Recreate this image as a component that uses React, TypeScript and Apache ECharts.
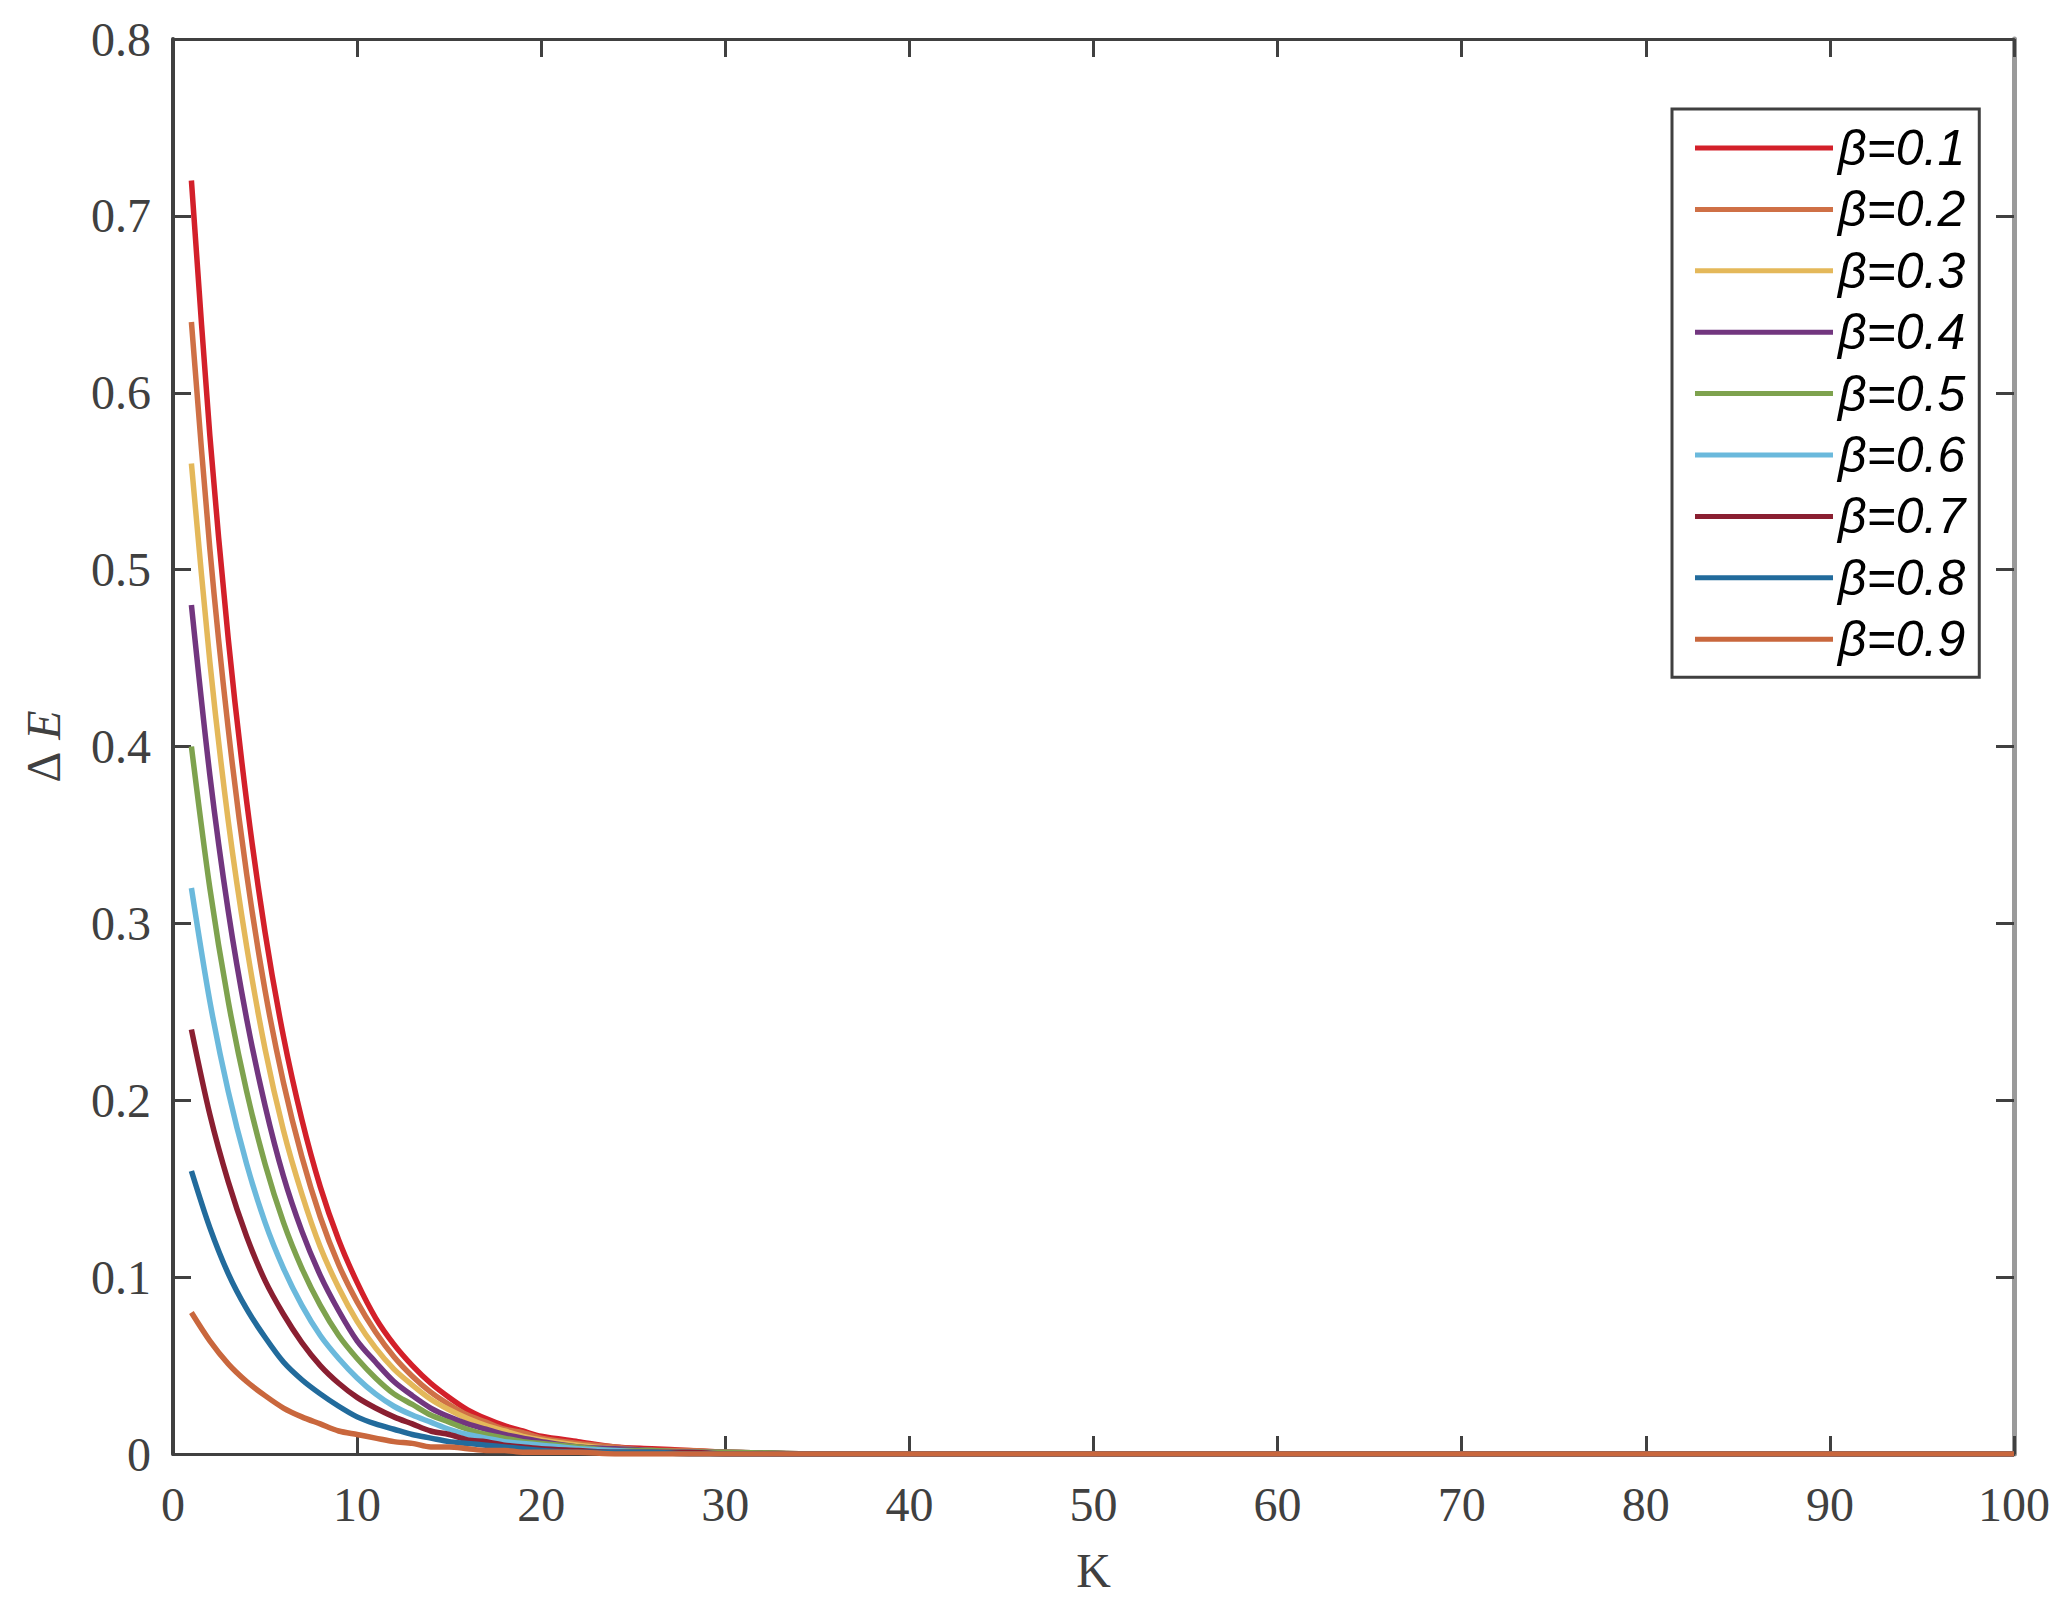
import React, { useEffect, useRef } from "react";
import * as echarts from "echarts";

const K = [1, 2, 3, 4, 5, 6, 7, 8, 9, 10, 11, 12, 13, 14, 15, 16, 17, 18, 19, 20, 22, 24, 26, 28, 30, 35, 40, 50, 60, 70, 80, 90, 100];

const names = ["β=0.1", "β=0.2", "β=0.3", "β=0.4", "β=0.5", "β=0.6", "β=0.7", "β=0.8", "β=0.9"];
const colors = ["#d3202a", "#cf7046", "#e4b85a", "#72367f", "#7ea24e", "#6bb9dc", "#8a1f31", "#226b9c", "#c9673d"];

const b01 = [0.72, 0.576, 0.461, 0.369, 0.295, 0.236, 0.189, 0.151, 0.121, 0.097, 0.077, 0.062, 0.05, 0.04, 0.032, 0.025, 0.02, 0.016, 0.013, 0.01, 0.007, 0.004, 0.003, 0.002, 0.001, 0, 0, 0, 0, 0, 0, 0, 0];
const b02 = [0.64, 0.512, 0.41, 0.328, 0.262, 0.21, 0.168, 0.134, 0.107, 0.086, 0.069, 0.055, 0.044, 0.035, 0.028, 0.022, 0.018, 0.014, 0.012, 0.009, 0.006, 0.004, 0.002, 0.002, 0.001, 0, 0, 0, 0, 0, 0, 0, 0];
const b03 = [0.56, 0.448, 0.358, 0.287, 0.229, 0.183, 0.147, 0.117, 0.094, 0.075, 0.06, 0.048, 0.039, 0.031, 0.025, 0.02, 0.016, 0.013, 0.01, 0.008, 0.005, 0.003, 0.002, 0.001, 0.001, 0, 0, 0, 0, 0, 0, 0, 0];
const b04 = [0.48, 0.384, 0.307, 0.246, 0.197, 0.157, 0.126, 0.101, 0.081, 0.064, 0.052, 0.041, 0.033, 0.026, 0.021, 0.017, 0.014, 0.011, 0.009, 0.007, 0.004, 0.003, 0.002, 0.001, 0.001, 0, 0, 0, 0, 0, 0, 0, 0];
const b05 = [0.4, 0.32, 0.256, 0.205, 0.164, 0.131, 0.105, 0.084, 0.067, 0.054, 0.043, 0.034, 0.028, 0.022, 0.018, 0.014, 0.011, 0.009, 0.007, 0.006, 0.004, 0.002, 0.002, 0.001, 0.001, 0, 0, 0, 0, 0, 0, 0, 0];
const b06 = [0.32, 0.256, 0.205, 0.164, 0.131, 0.105, 0.084, 0.067, 0.054, 0.043, 0.034, 0.027, 0.022, 0.018, 0.014, 0.011, 0.009, 0.007, 0.006, 0.005, 0.003, 0.002, 0.001, 0.001, 0, 0, 0, 0, 0, 0, 0, 0, 0];
const b07 = [0.24, 0.192, 0.154, 0.123, 0.098, 0.079, 0.063, 0.05, 0.04, 0.032, 0.026, 0.021, 0.017, 0.013, 0.011, 0.008, 0.007, 0.005, 0.004, 0.003, 0.002, 0.001, 0.001, 0.001, 0, 0, 0, 0, 0, 0, 0, 0, 0];
const b08 = [0.16, 0.128, 0.102, 0.082, 0.066, 0.052, 0.042, 0.034, 0.027, 0.021, 0.017, 0.014, 0.011, 0.009, 0.007, 0.006, 0.005, 0.004, 0.003, 0.002, 0.001, 0.001, 0.001, 0, 0, 0, 0, 0, 0, 0, 0, 0, 0];
const b09 = [0.08, 0.064, 0.051, 0.041, 0.033, 0.026, 0.021, 0.017, 0.013, 0.011, 0.009, 0.007, 0.006, 0.004, 0.004, 0.003, 0.002, 0.002, 0.001, 0.001, 0.001, 0, 0, 0, 0, 0, 0, 0, 0, 0, 0, 0, 0];

const seriesValues = [b01, b02, b03, b04, b05, b06, b07, b08, b09];

const xTicks = [0, 10, 20, 30, 40, 50, 60, 70, 80, 90, 100];
const yTicks = [0, 0.1, 0.2, 0.3, 0.4, 0.5, 0.6, 0.7, 0.8];

const AXIS = "#404040";
const SERIF = "'Liberation Serif', 'Times New Roman', serif";
const SANS = "'Liberation Sans', Arial, sans-serif";

export default function App() {
  const ref = useRef<HTMLDivElement>(null);
  useEffect(() => {
    if (!ref.current) return;
    const chart = echarts.init(ref.current, undefined, { renderer: "svg" });
    const tickStyle = { show: true, inside: true, length: 18, lineStyle: { color: AXIS, width: 3 } };
    chart.setOption({
      animation: false,
      backgroundColor: "#ffffff",
      grid: { left: 173, top: 39, width: 1841, height: 1415, containLabel: false },
      legend: {
        orient: "vertical",
        left: 1672,
        top: 109,
        padding: [14, 14, 13, 23],
        backgroundColor: "#ffffff",
        borderColor: AXIS,
        borderWidth: 3,
        icon: "rect",
        itemWidth: 138,
        itemHeight: 5,
        itemGap: 11.4,
        textStyle: { fontFamily: SANS, fontStyle: "italic", fontSize: 50, color: "#000", lineHeight: 50, padding: [0, 0, 0, 0] },
        data: names,
      },
      xAxis: [
        {
          type: "value",
          position: "bottom",
          min: 0,
          max: 100,
          interval: 10,
          name: "K",
          nameLocation: "middle",
          nameGap: 92,
          nameTextStyle: { fontFamily: SERIF, fontSize: 48, color: AXIS },
          axisLine: { show: true, onZero: false, lineStyle: { color: AXIS, width: 3 } },
          axisTick: tickStyle,
          axisLabel: {
            fontFamily: SERIF,
            fontSize: 48,
            color: AXIS,
            margin: 26,
            formatter: (v: number) => (xTicks.includes(v) ? String(v) : ""),
          },
          splitLine: { show: false },
        },
        {
          type: "value",
          position: "top",
          min: 0,
          max: 100,
          interval: 10,
          axisLine: { show: true, onZero: false, lineStyle: { color: AXIS, width: 3 } },
          axisTick: tickStyle,
          axisLabel: { show: false },
          splitLine: { show: false },
        },
      ],
      yAxis: [
        {
          type: "value",
          position: "left",
          min: 0,
          max: 0.8,
          interval: 0.1,
          name: "{d|Δ} {e|E}",
          nameLocation: "middle",
          nameGap: 106,
          nameRotate: 90,
          nameTextStyle: {
            fontFamily: SERIF,
            fontSize: 48,
            color: AXIS,
            rich: {
              d: { fontFamily: SERIF, fontSize: 48, color: AXIS },
              e: { fontFamily: SERIF, fontSize: 48, fontStyle: "italic", color: AXIS },
            },
          },
          axisLine: { show: true, onZero: false, lineStyle: { color: AXIS, width: 4 } },
          axisTick: tickStyle,
          axisLabel: {
            fontFamily: SERIF,
            fontSize: 48,
            color: AXIS,
            margin: 22,
            formatter: (v: number) => {
              const t = yTicks.find((y) => Math.abs(y - v) < 1e-9);
              return t === undefined ? "" : String(t);
            },
          },
          splitLine: { show: false },
        },
        {
          type: "value",
          position: "right",
          min: 0,
          max: 0.8,
          interval: 0.1,
          axisLine: { show: true, onZero: false, lineStyle: { color: "#9a9a9a", width: 5 } },
          axisTick: tickStyle,
          axisLabel: { show: false },
          splitLine: { show: false },
        },
      ],
      series: seriesValues.map((vals, i) => ({
        name: names[i],
        type: "line",
        xAxisIndex: 0,
        yAxisIndex: 0,
        data: K.map((k, j) => [k, vals[j]]),
        showSymbol: false,
        symbol: "none",
        smooth: 0.3,
        lineStyle: { color: colors[i], width: 5.5 },
        itemStyle: { color: colors[i] },
        z: 2 + i,
      })),
    });
    return () => chart.dispose();
  }, []);
  return <div ref={ref} style={{ position: "absolute", left: 0, top: 0, width: 2069, height: 1605 }} />;
}
